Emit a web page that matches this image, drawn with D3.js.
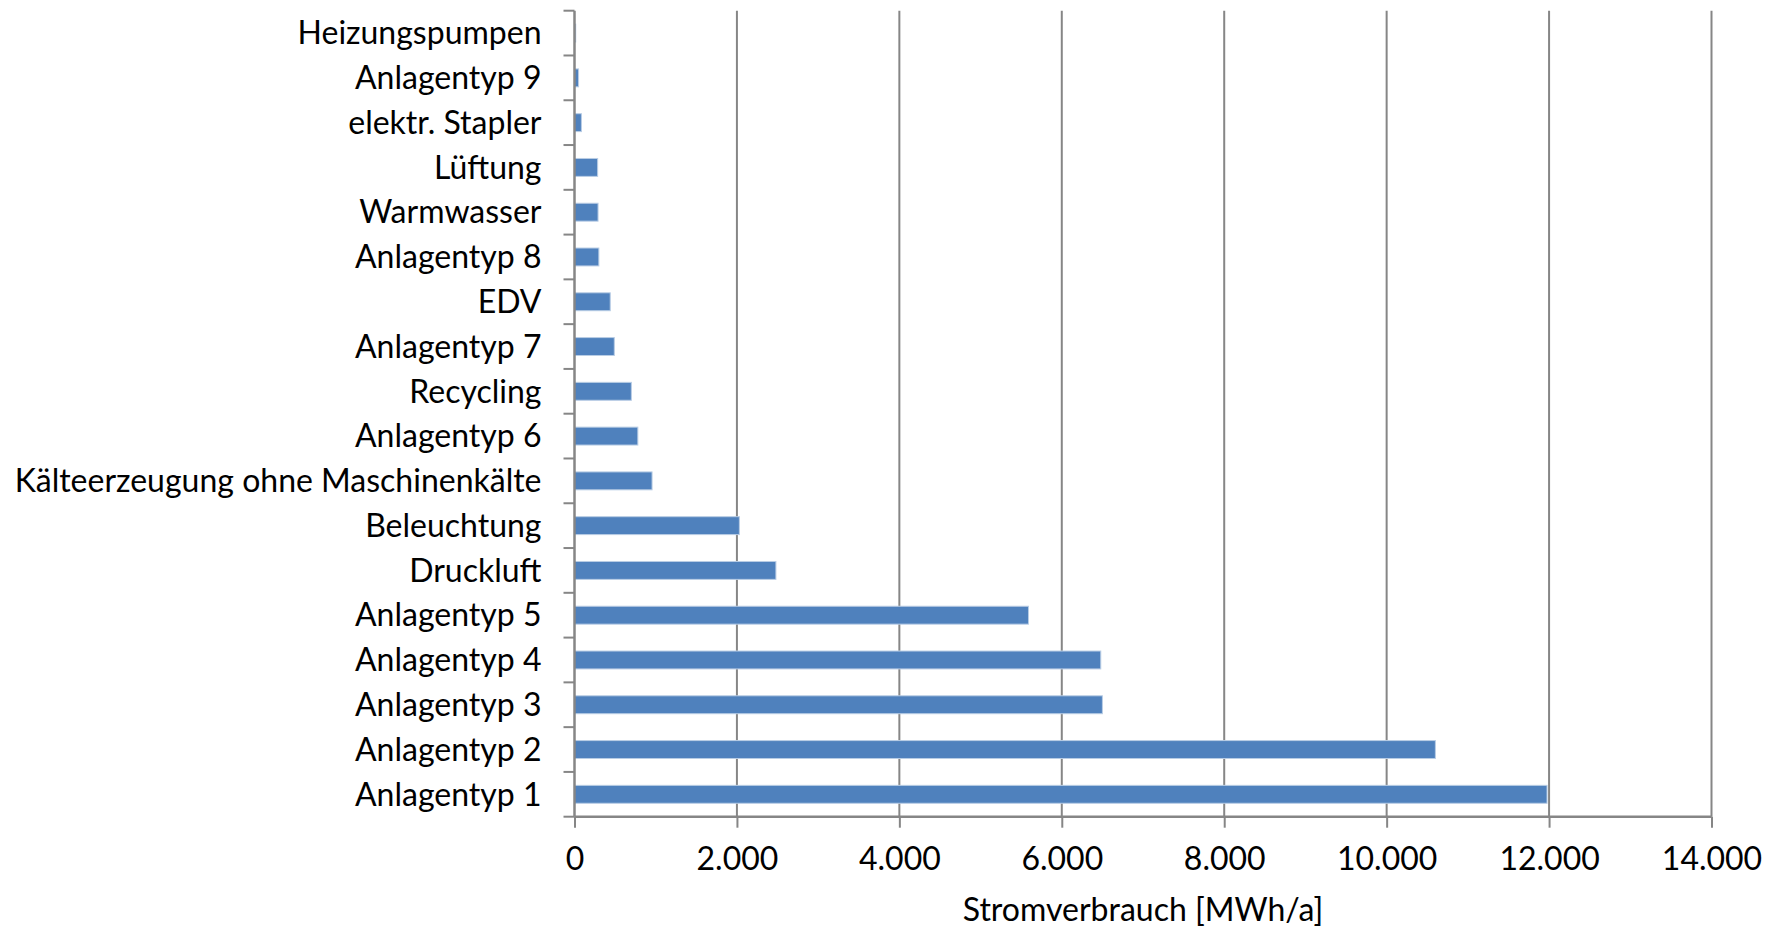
<!DOCTYPE html>
<html>
<head>
<meta charset="utf-8">
<script src="https://cdn.jsdelivr.net/npm/d3@7/dist/d3.min.js"></script>
<style>
  html, body { margin: 0; padding: 0; background: #ffffff; }
  svg { display: block; }
</style>
</head>
<body>
<script>
// ---- data (top to bottom as shown) ----
const categories = [
  "Heizungspumpen", "Anlagentyp 9", "elektr. Stapler", "Lüftung", "Warmwasser",
  "Anlagentyp 8", "EDV", "Anlagentyp 7", "Recycling", "Anlagentyp 6",
  "Kälteerzeugung ohne Maschinenkälte", "Beleuchtung", "Druckluft",
  "Anlagentyp 5", "Anlagentyp 4", "Anlagentyp 3", "Anlagentyp 2", "Anlagentyp 1"
];
const values = [
  15, 50, 85, 285, 290,
  300, 440, 490, 700, 780,
  955, 2030, 2480,
  5590, 6480, 6500, 10600, 11975
];
const xTicks = [0, 2000, 4000, 6000, 8000, 10000, 12000, 14000];
const xTitle = "Stromverbrauch [MWh/a]";

// ---- layout ----
const W = 1777, H = 928;
const plot = { left: 574.5, right: 1711.5, top: 10.7, bottom: 816.7 };
const FONT = "Lato, 'Open Sans', sans-serif";
const gridColor = "#868686";
const barColor = "#4F81BD";

const svg = d3.select("body").append("svg").attr("width", W).attr("height", H);

// fit font size to the widest category label (Calibri-like widths)
const probe = svg.append("text").attr("font-family", FONT).attr("font-size", 100)
  .text("Kälteerzeugung ohne Maschinenkälte");
const probeW = probe.node().getComputedTextLength();
probe.remove();
const fs = Math.min(36, 100 * 527 / probeW);

const x = d3.scaleLinear().domain([0, 14000]).range([plot.left, plot.right]);
const y = d3.scaleBand().domain(categories).range([plot.top, plot.bottom])
  .paddingInner(0.6).paddingOuter(0.3);

// vertical gridlines
svg.append("g").selectAll("line").data(xTicks.slice(1)).join("line")
  .attr("x1", d => x(d)).attr("x2", d => x(d))
  .attr("y1", plot.top).attr("y2", plot.bottom)
  .attr("stroke", gridColor).attr("stroke-width", 2);

// bars
svg.append("g").selectAll("rect").data(values).join("rect")
  .attr("x", x(0))
  .attr("y", (d, i) => y(categories[i]))
  .attr("width", d => x(d) - x(0))
  .attr("height", y.bandwidth())
  .attr("fill", barColor)
  .attr("stroke", "#b9cde5").attr("stroke-width", 1);

// x axis
const xAxis = d3.axisBottom(x).tickValues(xTicks).tickSize(11).tickPadding(20)
  .tickFormat(d => d3.format(",")(d).replace(/,/g, "."));
const gx = svg.append("g").attr("transform", `translate(0,${plot.bottom})`).call(xAxis);
gx.select(".domain").attr("stroke", gridColor).attr("stroke-width", 2.5)
  .attr("d", `M${plot.left},0H${plot.right}`);
gx.selectAll(".tick line").attr("stroke", gridColor).attr("stroke-width", 2);
gx.selectAll(".tick text").attr("font-family", FONT).attr("font-size", fs)
  .attr("fill", "#000").attr("dy", "0.71em");

// y axis line + category boundary ticks
const boundaries = d3.range(categories.length + 1).map(i => plot.top + i * (plot.bottom - plot.top) / categories.length);
svg.append("line").attr("x1", x(0)).attr("x2", x(0)).attr("y1", plot.top).attr("y2", plot.bottom)
  .attr("stroke", gridColor).attr("stroke-width", 2.5);
svg.append("g").selectAll("line").data(boundaries).join("line")
  .attr("x1", x(0) - 11).attr("x2", x(0))
  .attr("y1", d => d).attr("y2", d => d)
  .attr("stroke", gridColor).attr("stroke-width", 2);

// category labels
svg.append("g").selectAll("text").data(categories).join("text")
  .attr("x", x(0) - 33)
  .attr("y", d => y(d) + y.bandwidth() / 2)
  .attr("dy", "0.35em")
  .attr("text-anchor", "end")
  .attr("font-family", FONT).attr("font-size", fs).attr("fill", "#000")
  .text(d => d);

// x title
svg.append("text")
  .attr("x", (plot.left + plot.right) / 2)
  .attr("y", 910).attr("dy", "0.35em")
  .attr("text-anchor", "middle")
  .attr("font-family", FONT).attr("font-size", fs).attr("fill", "#000")
  .text(xTitle);
</script>
</body>
</html>
